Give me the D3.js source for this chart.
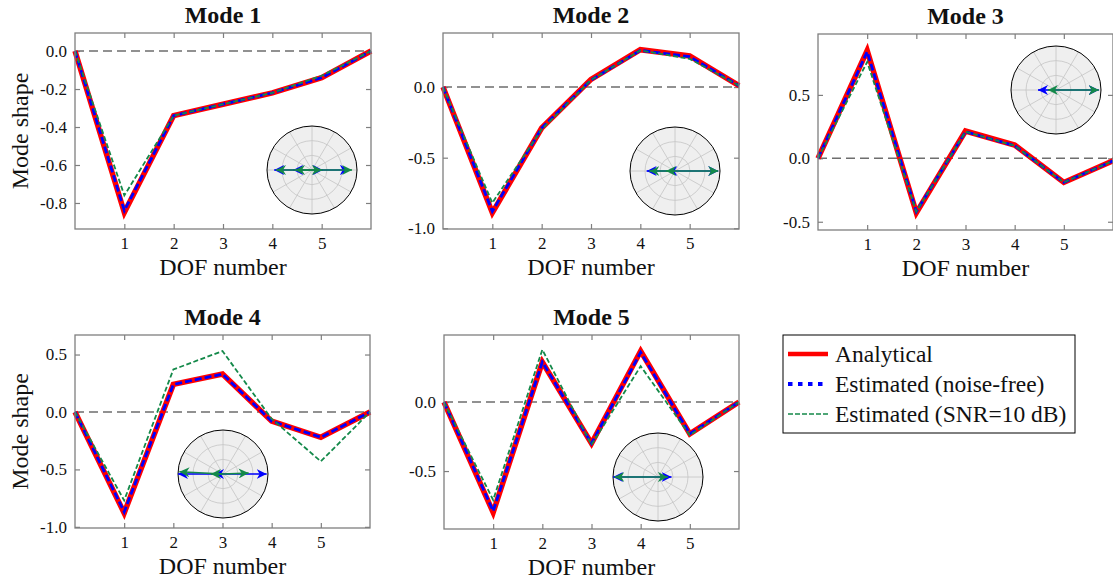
<!DOCTYPE html>
<html>
<head>
<meta charset="utf-8">
<script src="https://cdnjs.cloudflare.com/ajax/libs/d3/7.8.5/d3.min.js"></script>
<style>
body { margin: 0; background: #fff; }
svg text { font-family: "Liberation Serif", "DejaVu Serif", serif; fill: #111; }
</style>
</head>
<body>
<div id="chart"></div>
<script>
var width = 1113,
  height = 583;

// data
var modeNames = ['Mode 1', 'Mode 2', 'Mode 3', 'Mode 4', 'Mode 5'];
var dofs = [0, 1, 2, 3, 4, 5, 6];
var xTicks = [1, 2, 3, 4, 5];

var analytical = [
  [0, -0.85, -0.34, -0.28, -0.22, -0.14, 0],
  [0, -0.89, -0.29, 0.055, 0.265, 0.22, 0.01],
  [0, 0.85, -0.43, 0.215, 0.105, -0.19, -0.02],
  [0, -0.88, 0.24, 0.33, -0.08, -0.22, 0],
  [0, -0.80, 0.29, -0.30, 0.37, -0.23, 0]
];
var estNoiseFree = [
  [0, -0.84, -0.34, -0.28, -0.22, -0.14, 0],
  [0, -0.88, -0.29, 0.05, 0.26, 0.215, 0.01],
  [0, 0.84, -0.42, 0.21, 0.10, -0.19, -0.02],
  [0, -0.87, 0.24, 0.33, -0.08, -0.22, 0],
  [0, -0.79, 0.29, -0.30, 0.36, -0.23, 0]
];
var estSnr10 = [
  [0, -0.76, -0.34, -0.28, -0.22, -0.13, 0],
  [0, -0.82, -0.30, 0.05, 0.26, 0.20, 0.01],
  [0, 0.76, -0.42, 0.21, 0.10, -0.19, -0.02],
  [0, -0.77, 0.37, 0.53, -0.06, -0.43, 0],
  [0, -0.71, 0.38, -0.31, 0.26, -0.24, 0]
];

var yDomains = [[-0.937, 0.095], [-1.005, 0.383], [-0.565, 0.98], [-1.01, 0.67], [-0.92, 0.486]];
var yTicks = [
  [-0.8, -0.6, -0.4, -0.2, 0],
  [-1, -0.5, 0],
  [-0.5, 0, 0.5],
  [-1, -0.5, 0, 0.5],
  [-0.5, 0]
];

// complex mode components in the polar insets: [magnitude, phase in degrees]
var arrowsNoiseFree = [
  [[0.84, 180], [0.42, 180], [0.24, 0], [0.84, 0]],
  [[0.63, 180], [0.17, 180], [0.96, 0]],
  [[0.40, 180], [0.95, 0]],
  [[1.0, 180], [0.2, 180], [0.97, 0]],
  [[1.0, 180], [0.3, 0]]
];
var arrowsSnr10 = [
  [[0.80, 180], [0.38, 180], [0.22, 0], [0.89, 0]],
  [[0.57, 180], [0.20, 180], [0.96, 0]],
  [[0.18, 180], [0.95, 0]],
  [[0.97, 177], [0.27, 180], [0.57, 2]],
  [[0.97, 180], [0.22, 0]]
];

var legendLabels = ['Analytical', 'Estimated (noise-free)', 'Estimated (SNR=10 dB)'];

var red = '#ff0000', blue = '#0000ff', green = '#14894a', frameGray = '#7f7f7f';
var serif = '"Liberation Serif", "DejaVu Serif", serif';

// panel placement
var boxes = [
  {x: 75, y: 33, w: 296, h: 196, ylab: true, cx: 312, cy: 170},
  {x: 443, y: 33, w: 296, h: 196, cx: 675, cy: 171},
  {x: 818, y: 34, w: 295, h: 196, cx: 1056, cy: 90},
  {x: 75, y: 335, w: 295, h: 193, ylab: true, cx: 223, cy: 474},
  {x: 444, y: 335, w: 295, h: 194, cx: 658, cy: 477}
];
var rx = 45, ry = 44;

var svg = d3.select('#chart').append('svg')
  .attr('width', width)
  .attr('height', height);

var defs = svg.append('defs');
[['blue', blue], ['green', green]].forEach(function(m) {
  defs.append('marker')
    .attr('id', 'head-' + m[0])
    .attr('markerUnits', 'userSpaceOnUse')
    .attr('markerWidth', 12)
    .attr('markerHeight', 10)
    .attr('refX', 10)
    .attr('refY', 5)
    .attr('orient', 'auto')
    .append('path')
    .attr('d', 'M0,0 L10,5 L0,10 L3,5 z')
    .attr('fill', m[1]);
});

function fmt(d) {
  return d.toFixed(1);
}

var series = [
  {data: analytical, color: red, w: 5.5, dash: null},
  {data: estNoiseFree, color: blue, w: 2.8, dash: '7,3'},
  {data: estSnr10, color: green, w: 1.8, dash: '5,2.5'}
];

boxes.forEach(function(b, i) {
  var x = d3.scaleLinear().domain([0, 6]).range([b.x, b.x + b.w]);
  var y = d3.scaleLinear().domain(yDomains[i]).range([b.y + b.h, b.y]);
  var g = svg.append('g');

  // ticks, all pointing inwards
  g.append('g')
    .attr('transform', 'translate(0,' + (b.y + b.h) + ')')
    .call(d3.axisBottom(x).tickValues(xTicks).tickSize(-5).tickPadding(8).tickFormat(d3.format('d')));
  g.append('g')
    .attr('transform', 'translate(0,' + b.y + ')')
    .call(d3.axisTop(x).tickValues(xTicks).tickSize(-5).tickFormat(''));
  g.append('g')
    .attr('transform', 'translate(' + b.x + ',0)')
    .call(d3.axisLeft(y).tickValues(yTicks[i]).tickSize(-5).tickPadding(8).tickFormat(fmt));
  g.append('g')
    .attr('transform', 'translate(' + (b.x + b.w) + ',0)')
    .call(d3.axisRight(y).tickValues(yTicks[i]).tickSize(-5).tickFormat(''));

  g.selectAll('.domain').remove();
  g.selectAll('.tick line').attr('stroke', frameGray).attr('stroke-width', 1.2);
  g.selectAll('.tick text')
    .style('font-family', serif)
    .style('font-size', '17px')
    .style('fill', '#111');

  // zero line
  g.append('line')
    .attr('x1', b.x).attr('x2', b.x + b.w)
    .attr('y1', y(0)).attr('y2', y(0))
    .attr('stroke', '#6e6e6e')
    .attr('stroke-width', 1.5)
    .attr('stroke-dasharray', '9,5');

  var line = d3.line()
    .x(function(d, j) { return x(dofs[j]); })
    .y(function(d) { return y(d); });

  series.forEach(function(s) {
    g.append('path')
      .attr('d', line(s.data[i]))
      .attr('fill', 'none')
      .attr('stroke', s.color)
      .attr('stroke-width', s.w)
      .attr('stroke-linejoin', 'miter')
      .attr('stroke-dasharray', s.dash);
  });

  // frame
  g.append('rect')
    .attr('x', b.x).attr('y', b.y)
    .attr('width', b.w).attr('height', b.h)
    .attr('fill', 'none')
    .attr('stroke', frameGray)
    .attr('stroke-width', 1.3);

  // polar inset
  var p = g.append('g').attr('transform', 'translate(' + b.cx + ',' + b.cy + ')');
  p.append('ellipse')
    .attr('rx', rx).attr('ry', ry)
    .attr('fill', '#efefef');
  [1 / 3, 2 / 3].forEach(function(k) {
    p.append('ellipse')
      .attr('rx', rx * k).attr('ry', ry * k)
      .attr('fill', 'none')
      .attr('stroke', '#c4c4c4')
      .attr('stroke-width', 0.8);
  });
  d3.range(0, 360, 30).forEach(function(a) {
    var r = a * Math.PI / 180;
    p.append('line')
      .attr('x1', 0).attr('y1', 0)
      .attr('x2', rx * Math.cos(r)).attr('y2', -ry * Math.sin(r))
      .attr('stroke', '#c4c4c4')
      .attr('stroke-width', 0.8);
  });
  p.append('ellipse')
    .attr('rx', rx).attr('ry', ry)
    .attr('fill', 'none')
    .attr('stroke', '#000')
    .attr('stroke-width', 1);

  [[arrowsNoiseFree[i], blue, 'blue'], [arrowsSnr10[i], green, 'green']].forEach(function(a) {
    a[0].forEach(function(v) {
      var r = v[1] * Math.PI / 180;
      p.append('line')
        .attr('x1', 0).attr('y1', 0)
        .attr('x2', v[0] * rx * Math.cos(r))
        .attr('y2', -v[0] * ry * Math.sin(r))
        .attr('stroke', a[1])
        .attr('stroke-width', 1.6)
        .attr('marker-end', 'url(#head-' + a[2] + ')');
    });
  });

  // titles and labels
  svg.append('text')
    .attr('x', b.x + b.w / 2)
    .attr('y', b.y - 10)
    .attr('text-anchor', 'middle')
    .style('font-weight', 'bold')
    .style('font-size', '24px')
    .text(modeNames[i]);

  svg.append('text')
    .attr('x', b.x + b.w / 2)
    .attr('y', b.y + b.h + 46)
    .attr('text-anchor', 'middle')
    .style('font-size', '24px')
    .text('DOF number');

  if (b.ylab) {
    svg.append('text')
      .attr('transform', 'translate(28,' + (b.y + b.h / 2) + ') rotate(-90)')
      .attr('text-anchor', 'middle')
      .style('font-size', '24px')
      .text('Mode shape');
  }
});

// legend
var legend = svg.append('g').attr('transform', 'translate(783,335)');
legend.append('rect')
  .attr('width', 292).attr('height', 98)
  .attr('fill', '#fff')
  .attr('stroke', '#000')
  .attr('stroke-width', 1);

var legendStyle = [
  {color: red, w: 4.5, dash: null},
  {color: blue, w: 4, dash: '4.5,5.5'},
  {color: green, w: 1.6, dash: '5,2'}
];

legendLabels.forEach(function(lbl, k) {
  var ly = 19 + k * 30;
  legend.append('line')
    .attr('x1', 5).attr('x2', 45)
    .attr('y1', ly).attr('y2', ly)
    .attr('stroke', legendStyle[k].color)
    .attr('stroke-width', legendStyle[k].w)
    .attr('stroke-dasharray', legendStyle[k].dash);
  legend.append('text')
    .attr('x', 52)
    .attr('y', ly)
    .attr('dy', '0.35em')
    .style('font-size', '23.5px')
    .text(lbl);
});
</script>
</body>
</html>
